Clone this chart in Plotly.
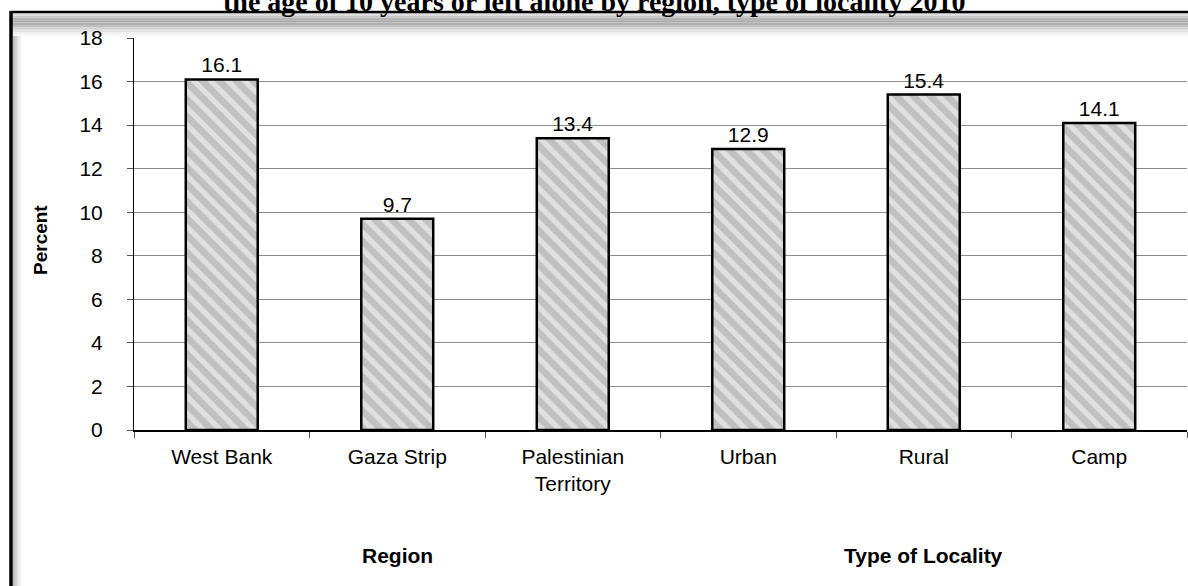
import plotly.graph_objects as go

# categories and values
categories = ["West Bank", "Gaza Strip", "Palestinian Territory", "Urban", "Rural", "Camp"]
tick_text = ["West Bank", "Gaza Strip", "Palestinian<br>Territory", "Urban", "Rural", "Camp"]
percent = [16.1, 9.7, 13.4, 12.9, 15.4, 14.1]
group_names = ["Region", "Type of Locality"]
group_at = ["Gaza Strip", "Rural"]
y_ticks = [0, 2, 4, 6, 8, 10, 12, 14, 16, 18]

title_text = "the age of 10 years or left alone by region, type of locality 2010"

W, H = 1188, 586
L, R, T, B = 134, 1, 38, 156  # plot area: x 134..1187, y 38..430
pw, ph = W - L - R, H - T - B


def px(x):
    return (x - L) / pw


def py(y):
    return (H - B - y) / ph


fig = go.Figure()
fig.add_trace(go.Bar(
    x=categories, y=percent,
    width=0.41,
    marker=dict(
        color="#c0c0c0",
        line=dict(color="black", width=2.5),
        pattern=dict(shape="\\", fgcolor="white", bgcolor="#c0c0c0",
                     size=12, solidity=0.45, fillmode="overlay"),
    ),
    text=[f"{v:.1f}" for v in percent],
    textposition="outside",
    textfont=dict(family="Arial", size=21, color="black"),
    cliponaxis=False,
    hoverinfo="x+y",
))

fig.update_layout(
    width=W, height=H,
    margin=dict(l=L, r=R, t=T, b=B),
    paper_bgcolor="white", plot_bgcolor="white",
    showlegend=False,
    font=dict(family="Arial", color="black"),
    xaxis=dict(
        tickmode="array", tickvals=categories, ticktext=tick_text,
        tickfont=dict(size=21), showline=True, linecolor="black", linewidth=1.5,
        ticks="outside", ticklen=6, tickcolor="#555", tickson="boundaries",
        ticklabelstandoff=7, showgrid=False,
    ),
    yaxis=dict(
        range=[0, 18], tickvals=y_ticks, tickfont=dict(size=21),
        showline=True, linecolor="black", linewidth=1,
        ticks="outside", ticklen=6, tickcolor="#555", ticklabelstandoff=20,
        showgrid=True, gridcolor="#8c8c8c", gridwidth=1.2,
        zeroline=False,
    ),
)

# y axis caption
fig.add_annotation(x=px(40), xref="paper", y=py(240), yref="paper",
                   xanchor="center", yanchor="middle",
                   text="<b>Percent</b>", textangle=-90, showarrow=False,
                   font=dict(size=19, family="Arial"))

# group captions under the category labels
for name, at in zip(group_names, group_at):
    fig.add_annotation(x=at, xref="x", y=py(555), yref="paper",
                       text=f"<b>{name}</b>", showarrow=False,
                       font=dict(size=21, family="Arial"),
                       xanchor="center", yanchor="middle")

# title, cut off at the top of the page
fig.add_annotation(x=px(594), xref="paper", y=py(19), yref="paper",
                   text=f"<b>{title_text}</b>", showarrow=False,
                   xanchor="center", yanchor="bottom",
                   font=dict(size=28, family="Liberation Serif, Times New Roman"))

# frame with soft shadow
shades = ["#e0e0e0", "#c8c8c8", "#b4b4b4", "#aaaaaa", "#b0b0b0", "#c0c0c0",
          "#d2d2d2", "#e2e2e2", "#efefef", "#f8f8f8"]
for i, c in enumerate(shades):
    fig.add_shape(type="rect", xref="paper", yref="paper",
                  x0=px(12), x1=px(1188), y0=py(13 + i * 2.4), y1=py(15.4 + i * 2.4),
                  fillcolor=c, line=dict(width=0), layer="below")
for i, c in enumerate(["#bdbdbd", "#d0d0d0", "#e2e2e2", "#f0f0f0"]):
    fig.add_shape(type="rect", xref="paper", yref="paper",
                  x0=px(13 + i * 2), x1=px(15 + i * 2), y0=py(36), y1=py(586),
                  fillcolor=c, line=dict(width=0), layer="below")
fig.add_shape(type="line", xref="paper", yref="paper",
              x0=px(10), x1=px(1188), y0=py(12), y1=py(12),
              line=dict(color="black", width=2.5))
fig.add_shape(type="line", xref="paper", yref="paper",
              x0=px(11), x1=px(11), y0=py(11), y1=py(586),
              line=dict(color="black", width=3.5))

fig.write_html("out.html", config={"displayModeBar": False},
               post_script="document.body.style.margin = '0';")
